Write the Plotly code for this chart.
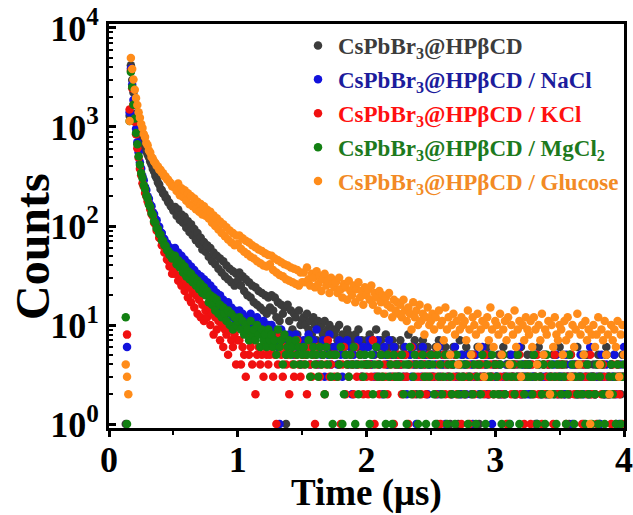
import plotly.graph_objects as go

# ---------------- data ----------------
time_us = [
    0.13, 0.14, 0.15, 0.16, 0.17, 0.18, 0.19, 0.20, 0.21, 0.22,
    0.23, 0.24, 0.25, 0.26, 0.27, 0.28, 0.29, 0.30, 0.31, 0.32,
    0.33, 0.34, 0.35, 0.36, 0.37, 0.38, 0.39, 0.40, 0.41, 0.42,
    0.43, 0.44, 0.45, 0.46, 0.47, 0.48, 0.49, 0.50,
    0.5125, 0.525, 0.5375, 0.55, 0.5625, 0.575, 0.5875, 0.6, 0.6125, 0.625, 0.6375, 0.65, 0.6625, 0.675, 0.6875, 0.7, 0.7125, 0.725, 0.7375, 0.75,
    0.7625, 0.775, 0.7875, 0.8, 0.8125, 0.825, 0.8375, 0.85, 0.8625, 0.875, 0.8875, 0.9, 0.9125, 0.925, 0.9375, 0.95, 0.9625, 0.975, 0.9875, 1.0,
    1.0125, 1.025, 1.0375, 1.05, 1.0625, 1.075, 1.0875, 1.1, 1.1125, 1.125, 1.1375, 1.15, 1.1625, 1.175, 1.1875, 1.2, 1.2125, 1.225, 1.2375, 1.25,
    1.2625, 1.275, 1.2875, 1.3, 1.3125, 1.325, 1.3375, 1.35, 1.3625, 1.375, 1.3875, 1.4, 1.4125, 1.425, 1.4375, 1.45, 1.4625, 1.475, 1.4875, 1.5,
    1.5125, 1.525, 1.5375, 1.55, 1.5625, 1.575, 1.5875, 1.6, 1.6125, 1.625, 1.6375, 1.65, 1.6625, 1.675, 1.6875, 1.7, 1.7125, 1.725, 1.7375, 1.75,
    1.7625, 1.775, 1.7875, 1.8, 1.8125, 1.825, 1.8375, 1.85, 1.8625, 1.875, 1.8875, 1.9, 1.9125, 1.925, 1.9375, 1.95, 1.9625, 1.975, 1.9875, 2.0,
    2.0125, 2.025, 2.0375, 2.05, 2.0625, 2.075, 2.0875, 2.1, 2.1125, 2.125, 2.1375, 2.15, 2.1625, 2.175, 2.1875, 2.2, 2.2125, 2.225, 2.2375, 2.25,
    2.2625, 2.275, 2.2875, 2.3, 2.3125, 2.325, 2.3375, 2.35, 2.3625, 2.375, 2.3875, 2.4, 2.4125, 2.425, 2.4375, 2.45, 2.4625, 2.475, 2.4875, 2.5,
    2.5125, 2.525, 2.5375, 2.55, 2.5625, 2.575, 2.5875, 2.6, 2.6125, 2.625, 2.6375, 2.65, 2.6625, 2.675, 2.6875, 2.7, 2.7125, 2.725, 2.7375, 2.75,
    2.7625, 2.775, 2.7875, 2.8, 2.8125, 2.825, 2.8375, 2.85, 2.8625, 2.875, 2.8875, 2.9, 2.9125, 2.925, 2.9375, 2.95, 2.9625, 2.975, 2.9875, 3.0,
    3.0125, 3.025, 3.0375, 3.05, 3.0625, 3.075, 3.0875, 3.1, 3.1125, 3.125, 3.1375, 3.15, 3.1625, 3.175, 3.1875, 3.2, 3.2125, 3.225, 3.2375, 3.25,
    3.2625, 3.275, 3.2875, 3.3, 3.3125, 3.325, 3.3375, 3.35, 3.3625, 3.375, 3.3875, 3.4, 3.4125, 3.425, 3.4375, 3.45, 3.4625, 3.475, 3.4875, 3.5,
    3.5125, 3.525, 3.5375, 3.55, 3.5625, 3.575, 3.5875, 3.6, 3.6125, 3.625, 3.6375, 3.65, 3.6625, 3.675, 3.6875, 3.7, 3.7125, 3.725, 3.7375, 3.75,
    3.7625, 3.775, 3.7875, 3.8, 3.8125, 3.825, 3.8375, 3.85, 3.8625, 3.875, 3.8875, 3.9, 3.9125, 3.925, 3.9375, 3.95, 3.9625, 3.975, 3.9875, 4.0,
]

counts_hpbcd = [
    1, 0, 0, 1300, 4200, 2980, 2230, 1690, 1370, 1110,
    955, 830, 760, 685, 645, 592, 570, 528, 495, 447,
    418, 378, 355, 322, 304, 275, 262, 236, 231, 213,
    209, 193, 190, 174, 172, 158, 155, 143,
    156, 127, 147, 115, 131, 108, 124, 96, 112, 87, 104, 80, 93, 72, 85, 66, 76, 58, 69, 55,
    64, 49, 60, 44, 54, 41, 50, 37, 47, 34, 44, 31, 40, 29, 37, 27, 35, 25, 33, 28,
    34, 25, 31, 22, 29, 20, 27, 19, 25, 17, 24, 16, 22, 15, 21, 14, 20, 13, 19, 15,
    20, 14, 19, 12, 17, 11, 16, 13, 15, 1, 16, 11, 14, 9, 13, 12, 8, 14, 10, 11,
    12, 10, 13, 9, 11, 8, 12, 10, 7, 11, 9, 10, 8, 11, 7, 9, 10, 6, 9, 8,
    9, 7, 10, 6, 8, 7, 5, 9, 8, 6, 7, 4, 8, 6, 9, 5, 7, 6, 4, 7,
    6, 8, 4, 7, 5, 9, 6, 3, 7, 5, 6, 8, 4, 6, 5, 7, 3, 6, 5, 4,
    7, 4, 6, 5, 3, 8, 5, 6, 4, 7, 2, 5, 6, 4, 7, 5, 3, 6, 4, 5,
    5, 3, 6, 1, 7, 2, 5, 4, 6, 3, 5, 1, 4, 6, 5, 3, 1, 7, 2, 5,
    4, 6, 3, 5, 2, 4, 5, 3, 6, 1, 4, 5, 3, 4, 6, 2, 5, 3, 4, 4,
    3, 5, 4, 2, 6, 3, 4, 1, 5, 4, 3, 2, 5, 4, 3, 6, 2, 4, 3, 5,
    4, 2, 5, 3, 1, 4, 6, 3, 2, 4, 5, 3, 4, 0, 3, 5, 2, 4, 3, 6,
    3, 5, 2, 4, 3, 1, 5, 3, 4, 2, 6, 3, 2, 4, 1, 3, 5, 4, 2, 3,
    4, 2, 3, 5, 1, 3, 4, 2, 6, 3, 2, 4, 3, 5, 1, 4, 3, 2, 5, 3,
]

counts_nacl = [
    0, 6, 0, 1400, 3900, 2680, 1870, 1290, 960, 700,
    556, 440, 381, 318, 290, 247, 231, 200, 188, 165,
    158, 138, 132, 118, 114, 100, 98, 86, 85, 75,
    74, 66, 67, 59, 61, 54, 56, 51,
    60, 49, 54, 45, 50, 41, 46, 38, 42, 35, 39, 33, 36, 30, 33, 28, 31, 26, 29, 25,
    27, 21, 25, 19, 23, 18, 21, 16, 20, 15, 18, 16, 14, 17, 13, 15, 12, 14, 11, 13,
    14, 11, 13, 10, 12, 11, 9, 13, 10, 11, 8, 12, 9, 10, 8, 11, 9, 7, 10, 8,
    10, 7, 9, 8, 6, 1, 9, 7, 8, 5, 7, 8, 6, 7, 5, 8, 6, 7, 4, 6,
    7, 5, 6, 8, 4, 6, 7, 5, 9, 4, 6, 5, 7, 3, 6, 5, 8, 4, 5, 6,
    6, 4, 7, 5, 3, 6, 5, 7, 4, 6, 2, 5, 6, 4, 7, 5, 3, 6, 5, 4,
    6, 7, 4, 5, 3, 6, 7, 4, 5, 2, 6, 5, 4, 7, 3, 5, 6, 4, 5, 3,
    4, 5, 3, 6, 2, 4, 5, 3, 6, 4, 1, 5, 4, 3, 6, 4, 5, 2, 4, 5,
    3, 5, 4, 2, 6, 3, 4, 5, 1, 4, 3, 5, 2, 4, 6, 3, 4, 2, 5, 3,
    4, 2, 5, 3, 4, 1, 3, 5, 4, 2, 3, 6, 3, 4, 2, 5, 3, 1, 4, 3,
    3, 4, 2, 5, 3, 2, 4, 3, 1, 5, 3, 4, 2, 3, 6, 2, 4, 3, 2, 4,
    2, 4, 3, 3, 5, 1, 4, 2, 3, 5, 3, 2, 4, 3, 0, 4, 3, 5, 2, 3,
    4, 3, 2, 5, 3, 2, 4, 1, 3, 4, 2, 3, 5, 3, 2, 4, 3, 2, 6, 3,
    3, 2, 4, 3, 1, 5, 3, 2, 4, 3, 2, 4, 3, 5, 2, 3, 1, 4, 3, 6,
]

counts_kcl = [
    0, 8, 0, 1500, 3700, 2460, 1680, 1130, 845, 610,
    490, 378, 326, 270, 250, 215, 200, 178, 165, 148,
    132, 126, 108, 104, 90, 88, 76, 75, 64, 63,
    54, 54, 46, 45, 39, 40, 33, 35,
    33, 38, 28, 31, 25, 30, 22, 26, 19, 24, 17, 21, 15, 20, 13, 18, 12, 16, 11, 14,
    12, 15, 10, 13, 8, 12, 9, 11, 7, 10, 6, 9, 8, 5, 9, 7, 6, 8, 4, 7,
    7, 4, 6, 5, 3, 8, 5, 6, 4, 7, 2, 5, 6, 4, 5, 3, 6, 5, 4, 5,
    6, 3, 5, 1, 4, 8, 5, 3, 6, 4, 5, 2, 6, 4, 3, 5, 7, 4, 3, 5,
    4, 5, 2, 6, 4, 3, 5, 1, 4, 6, 3, 4, 5, 2, 4, 7, 3, 4, 5, 3,
    5, 3, 4, 1, 4, 6, 2, 4, 3, 5, 4, 2, 6, 3, 4, 5, 3, 2, 4, 3,
    2, 4, 3, 7, 1, 3, 4, 2, 5, 3, 4, 3, 2, 5, 4, 3, 1, 4, 3, 5,
    4, 2, 3, 5, 3, 1, 4, 6, 2, 3, 4, 3, 5, 2, 3, 4, 2, 3, 5, 3,
    3, 5, 2, 3, 4, 1, 3, 5, 2, 4, 3, 2, 4, 3, 5, 2, 3, 4, 1, 3,
    2, 3, 4, 1, 3, 5, 2, 3, 4, 0, 3, 4, 2, 5, 3, 2, 4, 3, 2, 4,
    4, 2, 3, 5, 2, 3, 1, 4, 3, 2, 3, 4, 2, 3, 5, 2, 3, 1, 4, 3,
    3, 1, 4, 2, 3, 5, 2, 3, 1, 4, 2, 3, 4, 2, 3, 1, 5, 3, 2, 4,
    2, 4, 3, 1, 3, 2, 5, 3, 2, 3, 4, 2, 3, 1, 4, 3, 2, 3, 5, 2,
    3, 2, 1, 4, 3, 2, 4, 3, 5, 2, 3, 1, 4, 2, 3, 4, 2, 3, 1, 3,
]

counts_mgcl2 = [
    12, 1, 0, 1150, 3600, 2530, 1680, 1220, 870, 670,
    505, 415, 342, 305, 258, 236, 203, 190, 165, 156,
    135, 130, 112, 108, 95, 93, 83, 82, 72, 71,
    64, 63, 57, 56, 51, 52, 47, 48,
    50, 41, 45, 38, 42, 34, 39, 31, 35, 29, 33, 27, 30, 25, 28, 23, 26, 21, 24, 20,
    22, 17, 20, 16, 19, 14, 18, 13, 16, 12, 15, 13, 11, 14, 10, 13, 9, 12, 10, 11,
    12, 9, 11, 8, 10, 9, 7, 11, 8, 9, 7, 10, 8, 6, 9, 7, 8, 6, 9, 7,
    8, 6, 7, 5, 9, 6, 7, 4, 8, 5, 6, 7, 5, 6, 4, 7, 5, 6, 4, 5,
    6, 4, 5, 7, 3, 5, 6, 4, 5, 3, 6, 4, 5, 2, 6, 4, 5, 3, 1, 5,
    5, 3, 4, 6, 1, 2, 5, 4, 3, 5, 4, 6, 1, 4, 2, 5, 4, 3, 5, 4,
    4, 1, 5, 2, 4, 6, 3, 4, 5, 3, 2, 1, 5, 3, 4, 1, 5, 3, 4, 3,
    3, 5, 2, 4, 1, 4, 6, 2, 3, 5, 4, 1, 2, 4, 5, 3, 1, 4, 3, 5,
    4, 2, 1, 5, 3, 4, 2, 3, 5, 1, 4, 3, 2, 4, 1, 5, 2, 3, 4, 3,
    2, 4, 1, 3, 5, 2, 4, 1, 3, 4, 2, 5, 3, 1, 4, 3, 3, 5, 2, 4,
    3, 2, 4, 1, 5, 2, 3, 4, 1, 3, 4, 2, 3, 5, 1, 4, 3, 2, 4, 3,
    4, 3, 2, 5, 3, 1, 4, 3, 2, 4, 1, 5, 2, 3, 4, 2, 3, 1, 4, 3,
    2, 4, 3, 1, 2, 5, 3, 4, 1, 3, 2, 4, 3, 2, 5, 1, 4, 2, 3, 1,
    3, 2, 4, 1, 3, 4, 2, 1, 5, 2, 3, 4, 2, 3, 1, 4, 3, 1, 3, 4,
]

counts_glucose = [
    4, 3, 2, 1150, 4980, 3850, 3020, 2380, 1960, 1670,
    1410, 1240, 1070, 975, 850, 790, 690, 655, 580, 552,
    498, 481, 447, 432, 405, 398, 371, 370, 346, 341,
    318, 316, 296, 293, 276, 270, 252, 249,
    252, 226, 268, 205, 240, 196, 229, 180, 214, 166, 201, 158, 189, 148, 176, 139, 167, 131, 158, 127,
    146, 119, 139, 108, 128, 100, 120, 92, 111, 85, 104, 79, 97, 73, 90, 68, 85, 64, 80, 66,
    80, 59, 75, 55, 71, 52, 68, 49, 64, 47, 61, 44, 58, 42, 56, 40, 53, 39, 51, 41,
    50, 36, 47, 34, 45, 32, 43, 31, 41, 29, 40, 28, 38, 27, 37, 26, 36, 25, 34, 27,
    34, 27, 38, 29, 25, 33, 30, 24, 35, 26, 31, 22, 29, 33, 25, 28, 21, 30, 26, 24,
    27, 21, 30, 23, 19, 26, 24, 18, 28, 22, 20, 25, 17, 23, 27, 19, 22, 16, 24, 20,
    23, 18, 25, 16, 21, 19, 14, 22, 17, 20, 13, 19, 16, 21, 15, 12, 18, 14, 17, 13,
    16, 12, 18, 14, 11, 15, 13, 9, 17, 12, 14, 10, 16, 11, 13, 8, 12, 15, 10, 11,
    13, 9, 12, 6, 14, 10, 11, 7, 15, 9, 12, 5, 10, 13, 8, 11, 4, 9, 12, 10,
    11, 7, 14, 9, 5, 12, 10, 8, 13, 6, 9, 11, 3, 10, 12, 7, 15, 9, 6, 11,
    10, 8, 13, 5, 9, 11, 7, 12, 4, 10, 8, 14, 6, 9, 11, 3, 10, 7, 12, 9,
    8, 11, 6, 12, 9, 4, 10, 7, 13, 5, 9, 8, 11, 2, 10, 6, 12, 8, 7, 10,
    9, 5, 11, 7, 12, 8, 3, 10, 6, 9, 13, 4, 8, 10, 5, 11, 7, 9, 1, 8,
    10, 6, 8, 12, 4, 9, 7, 11, 5, 8, 2, 10, 7, 9, 6, 11, 3, 8, 10, 5,
]

series_names = [
    "CsPbBr<sub>3</sub>@HPβCD",
    "CsPbBr<sub>3</sub>@HPβCD / NaCl",
    "CsPbBr<sub>3</sub>@HPβCD / KCl",
    "CsPbBr<sub>3</sub>@HPβCD / MgCl<sub>2</sub>",
    "CsPbBr<sub>3</sub>@HPβCD / Glucose",
]
series_counts = [counts_hpbcd, counts_nacl, counts_kcl, counts_mgcl2, counts_glucose]
marker_colors = ["#3c3c3c", "#1212dc", "#f01010", "#128012", "#ff8c1a"]
text_colors = ["#3c3c3c", "#1c1c9c", "#ff1010", "#1d7a1d", "#f28a25"]

y_tick_vals = [1, 10, 100, 1000, 10000]
y_tick_text = ["10<sup>0</sup>", "10<sup>1</sup>", "10<sup>2</sup>", "10<sup>3</sup>", "10<sup>4</sup>"]
x_tick_vals = [0, 1, 2, 3, 4]

x_title = "Time (μs)"
y_title = "Counts"

for c in series_counts:
    assert len(c) == len(time_us), (len(c), len(time_us))

# ---------------- figure ----------------
FONT = "Liberation Serif"
fig = go.Figure()
for i, (name, cnt) in enumerate(zip(series_names, series_counts)):
    yv = [c if c > 0 else None for c in cnt]
    fig.add_trace(go.Scatter(
        x=time_us, y=yv, mode="markers",
        name=f"<span style='color:{text_colors[i]}'>{name}</span>",
        legendgroup=f"g{i}",
        marker=dict(size=8.5, color=marker_colors[i], line=dict(width=0)),
    ))

minor_y = [m * 10 ** k for k in range(4) for m in range(2, 10)]

fig.update_layout(
    width=633, height=515,
    margin=dict(l=109, r=9, t=24, b=87, autoexpand=False),
    paper_bgcolor="white", plot_bgcolor="white",
    font=dict(family=FONT, color="black"),
    showlegend=True,
    legend=dict(
        x=0.367, y=1.0, xanchor="left", yanchor="top",
        bgcolor="rgba(0,0,0,0)", borderwidth=0,
        font=dict(family=FONT, size=23, weight="bold"),
        tracegroupgap=1, itemwidth=30,
    ),
    xaxis=dict(
        range=[0, 4], tickvals=x_tick_vals, ticktext=[str(v) for v in x_tick_vals],
        ticks="outside", ticklen=6, tickwidth=2.5, tickcolor="black",
        minor=dict(tickvals=[0.5, 1.5, 2.5, 3.5], ticks="outside", ticklen=4, tickwidth=2, tickcolor="black"),
        showline=True, linewidth=3, linecolor="black", mirror=True,
        showgrid=False, zeroline=False, automargin=False, ticklabeloverflow="allow",
        ticklabelstandoff=-8,
        tickfont=dict(family=FONT, size=36, weight="bold"),
    ),
    yaxis=dict(
        type="log", range=[-0.04, 4.04],
        tickvals=y_tick_vals, ticktext=y_tick_text,
        ticks="inside", ticklen=7, tickwidth=2.5, tickcolor="black",
        minor=dict(tickvals=minor_y, ticks="inside", ticklen=4, tickwidth=2, tickcolor="black"),
        showline=True, linewidth=3, linecolor="black", mirror=True,
        showgrid=False, zeroline=False, automargin=False, ticklabeloverflow="allow",
        tickfont=dict(family=FONT, size=36, weight="bold"),
    ),
    annotations=[
        dict(text=x_title, xref="paper", yref="paper", x=0.5, y=-0.162,
             xanchor="center", yanchor="middle", showarrow=False,
             font=dict(family=FONT, size=37, weight="bold")),
        dict(text=y_title, xref="paper", yref="paper", x=-0.1495, y=0.448,
             xanchor="center", yanchor="middle", showarrow=False, textangle=-90,
             font=dict(family=FONT, size=48, weight="bold")),
    ],
)

# remove the page's default 8px body margin so the figure fills the window exactly
fig.write_html("out.html", config={"displayModeBar": False},
               post_script="document.body.style.margin='0px';")
